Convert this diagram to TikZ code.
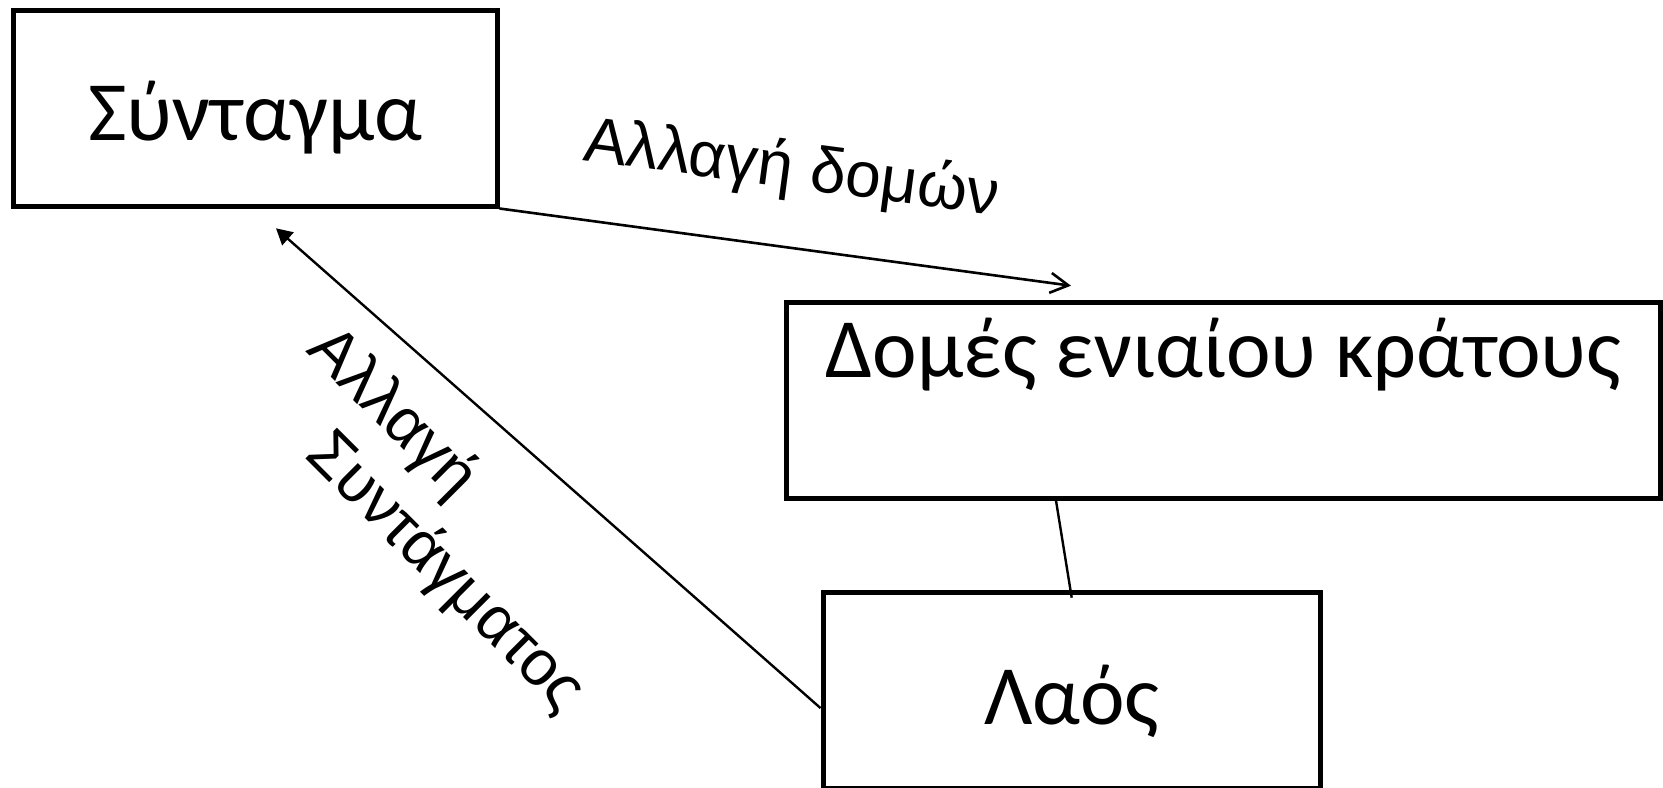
\documentclass[tikz,border=0pt]{standalone}
\usepackage{fontspec}
\setmainfont{Carlito}
\newfontfamily\lblfont{Liberation Sans}
\usetikzlibrary{arrows.meta,calc}
\begin{document}
\begin{tikzpicture}[x=0.5pt,y=-0.5pt,
  box/.style={draw,line width=2.5pt,inner sep=0pt,font=\fontsize{42.2}{50}\selectfont,text depth=0pt},
  conn/.style={line width=1.2pt},
  lbl/.style={inner sep=0pt,font=\lblfont\fontsize{32}{38}\selectfont,anchor=base west}]
\useasboundingbox (0,0) rectangle (1663,787);
\clip (0,0) rectangle (1663,787);
\node[box,minimum width=241.75pt,minimum height=98pt,text height=32pt] (synt) at (255.25,108) {Σύνταγμα};
\node[box,minimum width=437.25pt,minimum height=98pt,text height=0pt,text depth=23pt] (dom) at (1223.25,400) {Δομές ενιαίου κράτους};
\node[box,minimum width=248.75pt,minimum height=98pt,text height=33.5pt] (laos) at (1071.75,690.5) {Λαός};
\coordinate (tipA) at (1071,285.7);
\coordinate (tipB) at (276,228.3);
\coordinate (endC) at (1071.7,597.7);
\draw[conn,line width=1.3pt,-{Straight Barb[length=9pt,width=10pt]}] (synt.south east) -- (tipA);
\draw[conn,-{Triangle[length=8pt,width=8.5pt]}] (laos.184) -- (tipB);
\draw[conn] (dom.211.9) -- (endC);
\node[lbl,rotate=-7.6] (l1) at (581.7,160) {Αλλαγή δομών};
\node[lbl,rotate=-45] (l2) at (305,351.7) {Αλλαγή};
\node[lbl,rotate=-45] (l3) at (303.3,456.7) {Συντάγματος};
\end{tikzpicture}
\end{document}
